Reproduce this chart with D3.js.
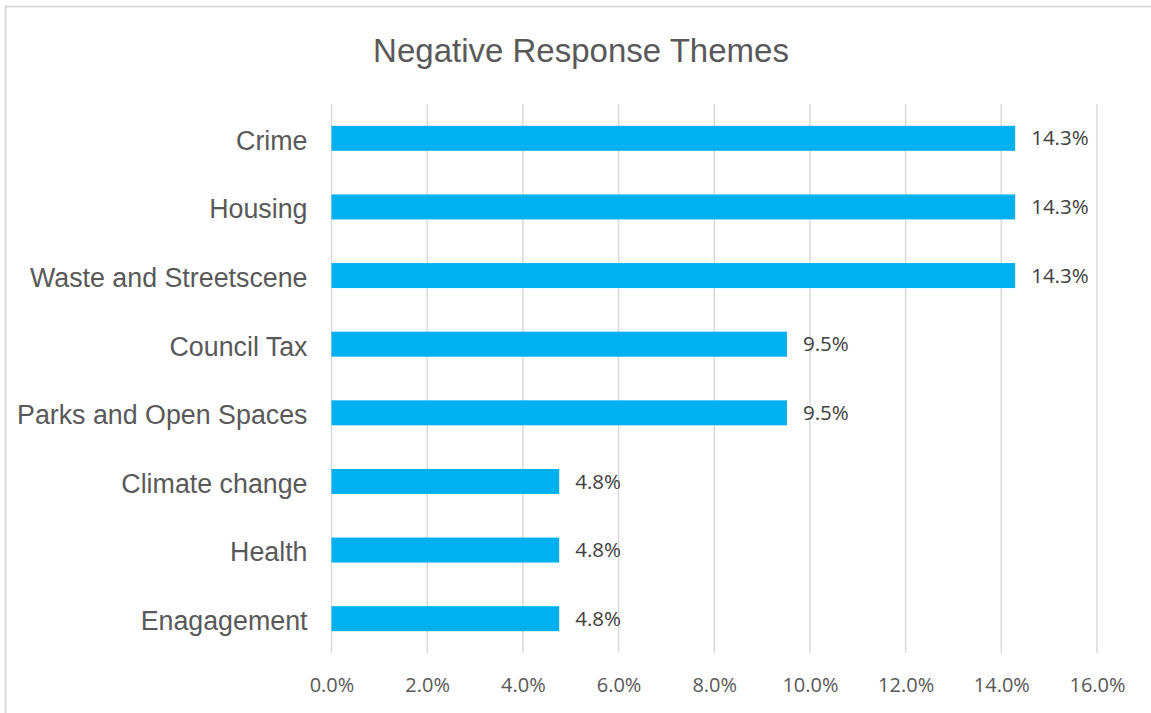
<!DOCTYPE html>
<html>
<head>
<meta charset="utf-8">
<script src="https://cdn.jsdelivr.net/npm/d3@7"></script>
<style>
  html, body { margin: 0; padding: 0; background: #fff; overflow: hidden; }
</style>
</head>
<body>
<script>
const categories = ["Crime", "Housing", "Waste and Streetscene", "Council Tax",
    "Parks and Open Spaces", "Climate change", "Health", "Enagagement"];
// bar lengths (labels round them to one decimal)
const values = [14.29, 14.29, 14.29, 9.52, 9.52, 4.76, 4.76, 4.76];
const tickValues = [0, 2, 4, 6, 8, 10, 12, 14, 16];
const title = "Negative Response Themes";

const width = 1151, height = 713;
const plotLeft = 331.5, plotRight = 1097, plotTop = 104, plotBottom = 653;

const svg = d3.select("body").append("svg")
    .attr("width", width)
    .attr("height", height);

// outer chart border (right/bottom cropped in the original)
svg.append("rect")
    .attr("x", 5.5).attr("y", 6.5)
    .attr("width", 1160).attr("height", 720)
    .attr("fill", "none")
    .attr("stroke", "#d9d9d9")
    .attr("stroke-width", 2);

svg.append("text")
    .attr("x", 581).attr("y", 62)
    .attr("text-anchor", "middle")
    .attr("font-family", "'Liberation Sans', Arial, sans-serif")
    .attr("font-size", 33)
    .attr("fill", "#595959")
    .text(title);

const x = d3.scaleLinear().domain([0, 16]).range([plotLeft, plotRight]);
const y = d3.scaleBand().domain(categories).range([plotTop, plotBottom]).paddingInner(0.636).paddingOuter(0.318);

// gridlines
svg.append("g")
    .selectAll("line")
    .data(tickValues)
    .join("line")
    .attr("x1", d => x(d)).attr("x2", d => x(d))
    .attr("y1", plotTop).attr("y2", plotBottom)
    .attr("stroke", "#d9d9d9")
    .attr("stroke-width", 1.5);

// x axis labels
const xAxis = d3.axisBottom(x)
    .tickValues(tickValues)
    .tickSize(0)
    .tickPadding(0)
    .tickFormat(d => d.toFixed(1) + "%");
const gx = svg.append("g")
    .attr("transform", "translate(0," + plotBottom + ")")
    .call(xAxis);
gx.select(".domain").remove();
gx.selectAll("text")
    .attr("y", 39)
    .attr("dy", 0)
    .attr("font-family", "'Open Sans', sans-serif")
    .attr("font-size", 20)
    .attr("fill", "#595959");

// y axis labels
const yAxis = d3.axisLeft(y).tickSize(0).tickPadding(24);
const gy = svg.append("g")
    .attr("transform", "translate(" + plotLeft + ",2)")
    .call(yAxis);
gy.select(".domain").remove();
gy.selectAll("text")
    .attr("dy", "0.35em")
    .attr("font-family", "'Liberation Sans', Arial, sans-serif")
    .attr("font-size", 26.8)
    .attr("fill", "#595959");

// bars
svg.append("g")
    .selectAll("rect")
    .data(values)
    .join("rect")
    .attr("x", x(0))
    .attr("y", (d, i) => y(categories[i]))
    .attr("width", d => x(d) - x(0))
    .attr("height", y.bandwidth())
    .attr("fill", "#00b0f0");

// data labels
svg.append("g")
    .selectAll("text")
    .data(values)
    .join("text")
    .attr("x", d => x(d) + 16)
    .attr("y", (d, i) => y(categories[i]) + y.bandwidth() / 2)
    .attr("dy", "0.35em")
    .attr("font-family", "'Open Sans', sans-serif")
    .attr("font-size", 20.5)
    .attr("fill", "#404040")
    .text(d => d.toFixed(1) + "%");
</script>
</body>
</html>
